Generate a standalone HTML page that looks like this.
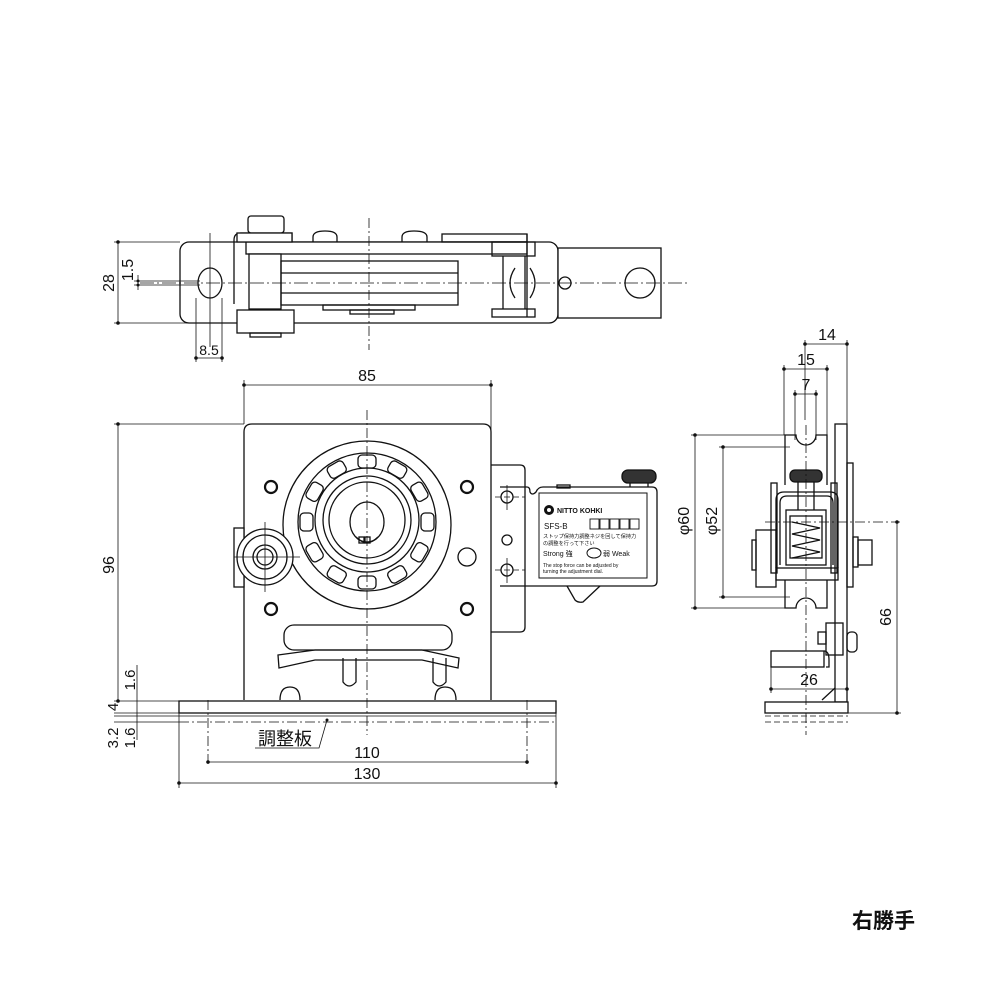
<!DOCTYPE html>
<html><head><meta charset="utf-8"><style>
html,body{margin:0;padding:0;background:#fff}
svg{display:block}
text{font-family:"Liberation Sans","Noto Sans CJK JP",sans-serif;fill:#111}
</style></head><body>
<svg width="1000" height="1000" viewBox="0 0 1000 1000" xmlns="http://www.w3.org/2000/svg">
<g fill="none" stroke="#111" stroke-width="1.3">
<!-- ===== TOP VIEW ===== -->
<rect x="180" y="242" width="378" height="81" rx="9" fill="#fff"/>
<rect x="558" y="248" width="103" height="70" fill="#fff"/>
<circle cx="640" cy="283" r="15"/>
<circle cx="565" cy="283" r="6"/>
<ellipse cx="210" cy="283" rx="12" ry="15"/>
<path d="M234 304 V240 Q234 233 241 233 H292 V242"/>
<rect x="246" y="242" width="281" height="12" fill="#fff"/>
<rect x="248" y="216" width="36" height="17" rx="3" fill="#fff"/>
<rect x="237" y="233" width="55" height="9" fill="#fff"/>
<rect x="249" y="254" width="32" height="55" fill="#fff"/>
<rect x="281" y="261" width="177" height="44"/>
<line x1="281" y1="273" x2="458" y2="273"/><line x1="281" y1="293" x2="458" y2="293"/>
<rect x="323" y="305" width="92" height="5"/>
<rect x="350" y="310" width="44" height="4"/>
<rect x="237" y="310" width="57" height="23" fill="#fff"/>
<rect x="250" y="333" width="31" height="4"/>
<path d="M313 242 V237 Q313 231 325 231 Q337 231 337 237 V242"/>
<path d="M402 242 V237 Q402 231 414 231 Q427 231 427 237 V242"/>
<rect x="442" y="234" width="85" height="8"/>
<rect x="492" y="242" width="43" height="14"/>
<rect x="492" y="309" width="43" height="8"/>
<line x1="503" y1="256" x2="503" y2="309"/><line x1="525" y1="256" x2="525" y2="309"/>
<line x1="527" y1="234" x2="527" y2="317"/>
<path d="M515 268 Q505 283 515 298"/><path d="M530 268 Q540 283 530 298"/>
</g>
<g stroke="#111" stroke-width="0.8" fill="none">
<line x1="140" y1="283" x2="690" y2="283" stroke-dasharray="14 3 2 3"/>
<line x1="369" y1="218" x2="369" y2="350" stroke-dasharray="10 3 2 3"/>
<line x1="210" y1="233" x2="210" y2="347"/>
<line x1="118" y1="242" x2="118" y2="323"/>
<line x1="114" y1="242" x2="180" y2="242"/><line x1="114" y1="323" x2="237" y2="323"/>
<line x1="138" y1="275" x2="138" y2="290"/>
<line x1="134" y1="281" x2="200" y2="281"/><line x1="134" y1="285" x2="200" y2="285"/>
<line x1="196" y1="298" x2="196" y2="362"/><line x1="222" y1="298" x2="222" y2="362"/>
<line x1="196" y1="358" x2="222" y2="358"/>
</g>
<g fill="#111"><circle cx="118" cy="242" r="1.8"/><circle cx="118" cy="323" r="1.8"/><circle cx="196" cy="358" r="1.8"/><circle cx="222" cy="358" r="1.8"/><circle cx="138" cy="281" r="1.5"/><circle cx="138" cy="285" r="1.5"/></g>
<text x="0" y="0" font-size="16" transform="translate(118,283) rotate(-90)" text-anchor="middle" dy="-4">28</text>
<text x="0" y="0" font-size="16" transform="translate(136,270) rotate(-90)" text-anchor="middle" dy="-3">1.5</text>
<text x="209" y="355" font-size="14" text-anchor="middle">8.5</text>

<!-- ===== FRONT VIEW ===== -->
<g fill="none" stroke="#111" stroke-width="1.3">
<path d="M244 700 V432 Q244 424 252 424 H483 Q491 424 491 432 V700"/>
<path d="M491 465 H520 Q525 465 525 470 V627 Q525 632 520 632 H491"/>
<path d="M500 487 H527 Q530 487 530 492 Q532 496 536 492 Q538 487 543 487 H652 Q657 487 657 492 V581 Q657 586 652 586 H500"/>
<rect x="539" y="493" width="108" height="85" stroke-width="1"/>
<path d="M567 586 L575 600 Q578 603 583 602 L600 586"/>
<rect x="622" y="470" width="34" height="13" rx="6" fill="#333"/>
<line x1="630" y1="483" x2="630" y2="487"/><line x1="648" y1="483" x2="648" y2="487"/>
<rect x="557" y="485" width="13" height="3"/>
<circle cx="507" cy="497" r="6"/><circle cx="507" cy="540" r="5"/><circle cx="507" cy="570" r="6"/>
<circle cx="367" cy="525" r="84" fill="#fff"/>
<circle cx="367" cy="522" r="69"/>
<circle cx="367" cy="520" r="52"/>
<circle cx="367" cy="520" r="44"/>
<circle cx="367" cy="520" r="38"/>
<ellipse cx="367" cy="522" rx="17" ry="20"/>
<path d="M356 537 Q367 548 378 537"/>
<rect x="359" y="537" width="5" height="6"/><rect x="365" y="537" width="5" height="6"/>
<g transform="translate(367,522)">
<rect x="-9" y="-67" width="18" height="13" rx="4" transform="rotate(0)"/>
<rect x="-9" y="-67" width="18" height="13" rx="4" transform="rotate(30)"/>
<rect x="-9" y="-67" width="18" height="13" rx="4" transform="rotate(60)"/>
<rect x="-9" y="-67" width="18" height="13" rx="4" transform="rotate(90)"/>
<rect x="-9" y="-67" width="18" height="13" rx="4" transform="rotate(120)"/>
<rect x="-9" y="-67" width="18" height="13" rx="4" transform="rotate(150)"/>
<rect x="-9" y="-67" width="18" height="13" rx="4" transform="rotate(180)"/>
<rect x="-9" y="-67" width="18" height="13" rx="4" transform="rotate(210)"/>
<rect x="-9" y="-67" width="18" height="13" rx="4" transform="rotate(240)"/>
<rect x="-9" y="-67" width="18" height="13" rx="4" transform="rotate(270)"/>
<rect x="-9" y="-67" width="18" height="13" rx="4" transform="rotate(300)"/>
<rect x="-9" y="-67" width="18" height="13" rx="4" transform="rotate(330)"/>
</g>
<g stroke-width="2.2"><circle cx="271" cy="487" r="6"/><circle cx="467" cy="487" r="6"/><circle cx="271" cy="609" r="6"/><circle cx="467" cy="609" r="6"/></g>
<circle cx="467" cy="557" r="9"/>
<rect x="234" y="528" width="10" height="59" fill="#fff"/>
<circle cx="265" cy="557" r="28" fill="#fff"/>
<circle cx="265" cy="557" r="22"/><circle cx="265" cy="557" r="12"/><circle cx="265" cy="557" r="8"/>
<rect x="284" y="625" width="168" height="25" rx="10"/>
<path d="M278 655 L315 650 H422 L459 658 L458 668 L422 660 H315 L279 668 Z"/>
<path d="M343 658 V682 Q349 690 356 682 V658"/>
<path d="M433 658 V682 Q439 690 446 682 V658"/>
<path d="M280 700 Q280 687 290 687 Q300 687 300 700"/>
<path d="M435 700 Q435 687 445 687 Q456 687 456 700"/>
<rect x="179" y="701" width="377" height="12" fill="#fff"/>
<line x1="179" y1="716" x2="556" y2="716" stroke-width="0.8"/>
<line x1="179" y1="722" x2="556" y2="722" stroke-width="0.8" stroke-dasharray="10 3 2 3"/>
<line x1="179" y1="713" x2="179" y2="722" stroke-width="0.8"/><line x1="556" y1="713" x2="556" y2="722" stroke-width="0.8"/>
</g>
<g stroke="#111" stroke-width="0.8" fill="none">
<line x1="367" y1="410" x2="367" y2="735" stroke-dasharray="10 3 2 3"/>
<line x1="234" y1="557" x2="300" y2="557"/><line x1="265" y1="522" x2="265" y2="592"/>
<line x1="495" y1="497" x2="525" y2="497" stroke-dasharray="6 3"/><line x1="495" y1="570" x2="525" y2="570" stroke-dasharray="6 3"/>
<line x1="507" y1="485" x2="507" y2="510"/><line x1="507" y1="558" x2="507" y2="583"/>
<line x1="244" y1="380" x2="244" y2="424"/><line x1="491" y1="380" x2="491" y2="465"/>
<line x1="244" y1="385" x2="491" y2="385"/>
<line x1="118" y1="424" x2="118" y2="701"/><line x1="114" y1="424" x2="244" y2="424"/>
<line x1="114" y1="701" x2="179" y2="701"/><line x1="114" y1="713" x2="179" y2="713"/>
<line x1="114" y1="716" x2="179" y2="716"/><line x1="114" y1="722" x2="179" y2="722"/>
<line x1="137" y1="665" x2="137" y2="740"/>
<line x1="208" y1="700" x2="208" y2="767" stroke-dasharray="10 3 2 3"/><line x1="527" y1="700" x2="527" y2="767" stroke-dasharray="10 3 2 3"/>
<line x1="208" y1="762" x2="527" y2="762"/>
<line x1="179" y1="722" x2="179" y2="788"/><line x1="556" y1="722" x2="556" y2="788"/>
<line x1="179" y1="783" x2="556" y2="783"/>
<path d="M255 748 H319 L327 720"/>
</g>
<g fill="#111"><circle cx="244" cy="385" r="1.8"/><circle cx="491" cy="385" r="1.8"/><circle cx="118" cy="424" r="1.8"/><circle cx="118" cy="701" r="1.8"/><circle cx="208" cy="762" r="1.8"/><circle cx="527" cy="762" r="1.8"/><circle cx="179" cy="783" r="1.8"/><circle cx="556" cy="783" r="1.8"/><circle cx="327" cy="720" r="1.5"/></g>
<text x="367" y="381" font-size="16" text-anchor="middle">85</text>
<text font-size="16" transform="translate(114,565) rotate(-90)" text-anchor="middle">96</text>
<text font-size="15" transform="translate(135,680) rotate(-90)" text-anchor="middle">1.6</text>
<text font-size="15" transform="translate(118,707) rotate(-90)" text-anchor="middle">4</text>
<text font-size="15" transform="translate(118,738) rotate(-90)" text-anchor="middle">3.2</text>
<text font-size="15" transform="translate(135,738) rotate(-90)" text-anchor="middle">1.6</text>
<text x="258" y="745" font-size="18">調整板</text>
<text x="367" y="758" font-size="16" text-anchor="middle">110</text>
<text x="367" y="779" font-size="16" text-anchor="middle">130</text>
<!-- label -->
<circle cx="549" cy="510" r="5" fill="#111"/><circle cx="549" cy="510" r="2" fill="#fff"/>
<text x="557" y="513" font-size="7" font-weight="bold">NITTO KOHKI</text>
<text x="544" y="529" font-size="8">SFS-B</text>
<g fill="none" stroke="#111" stroke-width="0.9"><rect x="590" y="519" width="9" height="10"/><rect x="600" y="519" width="9" height="10"/><rect x="610" y="519" width="9" height="10"/><rect x="620" y="519" width="9" height="10"/><rect x="630" y="519" width="9" height="10"/></g>
<text x="543" y="538" font-size="5.2">ストップ保持力調整ネジを回して保持力</text>
<text x="543" y="545" font-size="5.2">の調整を行って下さい</text>
<text x="543" y="556" font-size="7">Strong 強</text>
<ellipse cx="594" cy="553" rx="7" ry="5" fill="#fff" stroke="#111"/>
<text x="603" y="556" font-size="7">弱 Weak</text>
<text x="543" y="567" font-size="5">The stop force can be adjusted by</text>
<text x="543" y="573" font-size="5">turning the adjustment dial.</text>

<!-- ===== SIDE VIEW ===== -->
<g fill="none" stroke="#111" stroke-width="1.3">
<path d="M785 485 V435 H796 A10 10 0 0 0 816 435 H827 V485"/>
<path d="M785 580 V608 H796 A10 10 0 0 1 816 608 H827 V580"/>
<rect x="835" y="424" width="12" height="278" fill="#fff"/>
<rect x="847" y="463" width="6" height="124"/>
<path d="M776 568 V500 Q776 492 784 492 H830 Q838 492 838 500 V568"/>
<path d="M780 565 V503 Q780 496 787 496 H827 Q833 496 833 503 V565"/>
<rect x="771" y="483" width="6" height="90"/><rect x="831" y="483" width="6" height="90"/>
<rect x="786" y="510" width="40" height="55"/>
<rect x="790" y="516" width="32" height="42"/>
<path d="M792 522 L820 528 L792 534 L820 540 L792 546 L820 552 L792 558"/>
<rect x="790" y="470" width="32" height="12" rx="5" fill="#333"/>
<line x1="798" y1="482" x2="798" y2="510"/><line x1="814" y1="482" x2="814" y2="510"/>
<rect x="756" y="530" width="20" height="57"/><rect x="752" y="540" width="4" height="30"/>
<rect x="776" y="568" width="62" height="12"/>
<rect x="853" y="537" width="5" height="30"/><rect x="858" y="540" width="14" height="25"/>
<rect x="826" y="623" width="17" height="32"/><rect x="818" y="632" width="8" height="12"/>
<rect x="847" y="632" width="10" height="20" rx="4"/>
<rect x="771" y="651" width="53" height="16"/>
<path d="M824 651 Q829 651 829 660 V667 H826"/>
<line x1="822" y1="700" x2="835" y2="688"/>
<rect x="765" y="702" width="83" height="11" fill="#fff"/>
<line x1="765" y1="716" x2="848" y2="716" stroke-width="0.8" stroke-dasharray="6 3"/>
<line x1="765" y1="722" x2="848" y2="722" stroke-width="0.8" stroke-dasharray="6 3"/>
</g>
<g stroke="#111" stroke-width="0.8" fill="none">
<line x1="806" y1="425" x2="806" y2="735" stroke-dasharray="10 3 2 3"/>
<line x1="765" y1="522" x2="900" y2="522" stroke-dasharray="10 3 2 3"/>
<line x1="805" y1="340" x2="805" y2="420"/><line x1="847" y1="340" x2="847" y2="424"/>
<line x1="805" y1="344" x2="847" y2="344"/>
<line x1="784" y1="365" x2="784" y2="435"/><line x1="827" y1="365" x2="827" y2="435"/>
<line x1="784" y1="369" x2="827" y2="369"/>
<line x1="795" y1="390" x2="795" y2="440"/><line x1="816" y1="390" x2="816" y2="440"/>
<line x1="795" y1="394" x2="816" y2="394"/>
<line x1="695" y1="435" x2="695" y2="608"/><line x1="691" y1="435" x2="785" y2="435"/><line x1="691" y1="608" x2="785" y2="608"/>
<line x1="723" y1="447" x2="723" y2="597"/><line x1="719" y1="447" x2="790" y2="447"/><line x1="719" y1="597" x2="790" y2="597"/>
<line x1="897" y1="522" x2="897" y2="713"/><line x1="848" y1="713" x2="901" y2="713"/>
<line x1="771" y1="667" x2="771" y2="693"/><line x1="847" y1="680" x2="847" y2="693"/>
<line x1="771" y1="689" x2="847" y2="689"/>
</g>
<g fill="#111"><circle cx="805" cy="344" r="1.8"/><circle cx="847" cy="344" r="1.8"/><circle cx="784" cy="369" r="1.8"/><circle cx="827" cy="369" r="1.8"/><circle cx="795" cy="394" r="1.8"/><circle cx="816" cy="394" r="1.8"/><circle cx="695" cy="435" r="1.8"/><circle cx="695" cy="608" r="1.8"/><circle cx="723" cy="447" r="1.8"/><circle cx="723" cy="597" r="1.8"/><circle cx="897" cy="522" r="1.8"/><circle cx="897" cy="713" r="1.8"/><circle cx="771" cy="689" r="1.8"/><circle cx="847" cy="689" r="1.8"/></g>
<text x="827" y="340" font-size="16" text-anchor="middle">14</text>
<text x="806" y="365" font-size="16" text-anchor="middle">15</text>
<text x="806" y="390" font-size="16" text-anchor="middle">7</text>
<text font-size="16" transform="translate(689,521) rotate(-90)" text-anchor="middle">φ60</text>
<text font-size="16" transform="translate(717,521) rotate(-90)" text-anchor="middle">φ52</text>
<text font-size="16" transform="translate(891,617) rotate(-90)" text-anchor="middle">66</text>
<text x="809" y="685" font-size="16" text-anchor="middle">26</text>

<text x="852" y="928" font-size="21" font-weight="bold" style="font-family:'Noto Sans CJK JP',sans-serif">右勝手</text>
</svg>
</body></html>
